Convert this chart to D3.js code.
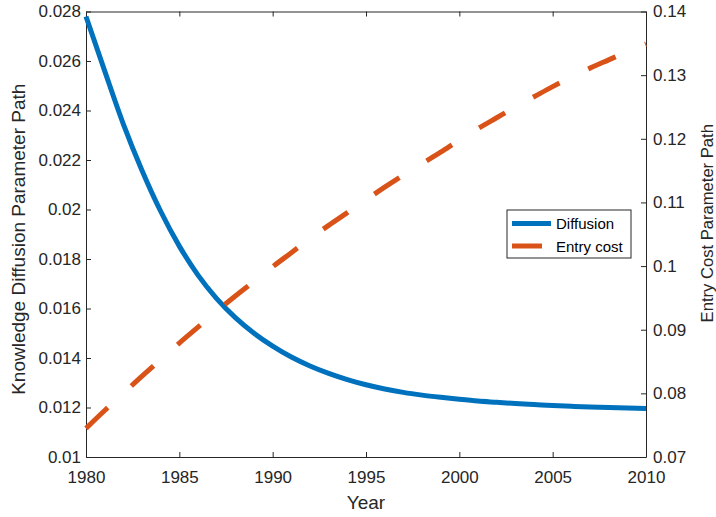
<!DOCTYPE html>
<head>
  <meta charset="utf-8">
  <script src="https://cdn.jsdelivr.net/npm/d3@7/dist/d3.min.js"></script>
  <style>
    body {
      margin: 0;
      background: #fff;
    }
    svg {
      font-family: "Liberation Sans", Arial, sans-serif;
    }
    .axis text {
      font-size: 17px;
      fill: #262626;
    }
    .axis path, .axis line {
      stroke: #262626;
    }
  </style>
</head>
<body>
  <script>

    // years on the x axis
    var years = d3.range(1980, 2011);

    // knowledge diffusion parameter path (left axis), one value per year
    var diffusion = [
      0.0278, 0.0256, 0.02345, 0.02158, 0.01993, 0.01852, 0.01735, 0.01640,
      0.01563, 0.01500, 0.01448, 0.01404, 0.01368, 0.01338, 0.01313, 0.01292,
      0.01275, 0.01261, 0.01250, 0.01241, 0.01233, 0.01226, 0.01221, 0.01216,
      0.01212, 0.01208, 0.01205, 0.01202, 0.01200, 0.01198, 0.01196
    ];

    // entry cost parameter path (right axis), one value per year
    var entryCost = [
      0.0745, 0.0773, 0.0800, 0.0827, 0.0853, 0.0879, 0.0904, 0.0929,
      0.0953, 0.0976, 0.0999, 0.1021, 0.1043, 0.1064, 0.1084, 0.1104,
      0.1124, 0.1143, 0.1161, 0.1179, 0.1198, 0.1216, 0.1233, 0.1250,
      0.1266, 0.1282, 0.1297, 0.1311, 0.1324, 0.1337, 0.1349
    ];

    var xTicks = [1980, 1985, 1990, 1995, 2000, 2005, 2010];
    var leftTicks = [0.01, 0.012, 0.014, 0.016, 0.018, 0.02, 0.022, 0.024, 0.026, 0.028];
    var rightTicks = [0.07, 0.08, 0.09, 0.1, 0.11, 0.12, 0.13, 0.14];

    var series = [
      { name: "Diffusion", color: "#0072BD", dash: null },
      { name: "Entry cost", color: "#D95319", dash: "30,32" }
    ];

    var width = 716, height = 517;
    var x0 = 86, x1 = 646, y0 = 11.5, y1 = 457;

    var svg = d3.select("body").append("svg")
        .attr("width", width)
        .attr("height", height);

    var x = d3.scaleLinear().domain([1980, 2010]).range([x0, x1]);
    var yL = d3.scaleLinear().domain([0.01, 0.028]).range([y1, y0]);
    var yR = d3.scaleLinear().domain([0.07, 0.14]).range([y1, y0]);

    var fmt = function (d){ return String(+d.toFixed(4)); };

    // box axes (ticks point inward, MATLAB style)
    svg.append("g").attr("class", "axis")
        .attr("transform", "translate(0," + y1 + ")")
        .call(d3.axisBottom(x).tickValues(xTicks).tickFormat(d3.format("d"))
          .tickSizeInner(-5).tickSizeOuter(0).tickPadding(14));

    svg.append("g").attr("class", "axis")
        .attr("transform", "translate(0," + y0 + ")")
        .call(d3.axisTop(x).tickValues(xTicks).tickFormat("")
          .tickSizeInner(-5).tickSizeOuter(0));

    svg.append("g").attr("class", "axis")
        .attr("transform", "translate(" + x0 + ",0)")
        .call(d3.axisLeft(yL).tickValues(leftTicks).tickFormat(fmt)
          .tickSizeInner(-5).tickSizeOuter(0).tickPadding(5));

    svg.append("g").attr("class", "axis")
        .attr("transform", "translate(" + x1 + ",0)")
        .call(d3.axisRight(yR).tickValues(rightTicks).tickFormat(fmt)
          .tickSizeInner(-5).tickSizeOuter(0).tickPadding(7));

    // lines
    var lineL = d3.line()
        .x(function (d, i){ return x(years[i]); })
        .y(function (d){ return yL(d); })
        .curve(d3.curveMonotoneX);

    var lineR = d3.line()
        .x(function (d, i){ return x(years[i]); })
        .y(function (d){ return yR(d); })
        .curve(d3.curveMonotoneX);

    svg.append("path")
        .attr("d", lineL(diffusion))
        .attr("fill", "none")
        .attr("stroke", series[0].color)
        .attr("stroke-width", 5);

    svg.append("path")
        .attr("d", lineR(entryCost))
        .attr("fill", "none")
        .attr("stroke", series[1].color)
        .attr("stroke-width", 5)
        .attr("stroke-dasharray", series[1].dash);

    // axis labels
    svg.append("text")
        .attr("x", (x0 + x1) / 2)
        .attr("y", 509)
        .attr("text-anchor", "middle")
        .attr("font-size", 19)
        .attr("fill", "#262626")
        .text("Year");

    svg.append("text")
        .attr("transform", "translate(25," + ((y0 + y1) / 2 + 5) + ") rotate(-90)")
        .attr("text-anchor", "middle")
        .attr("font-size", 19)
        .attr("fill", "#262626")
        .text("Knowledge Diffusion Parameter Path");

    svg.append("text")
        .attr("transform", "translate(713," + ((y0 + y1) / 2 - 11) + ") rotate(-90)")
        .attr("text-anchor", "middle")
        .attr("font-size", 16.6)
        .attr("fill", "#262626")
        .text("Entry Cost Parameter Path");

    // legend
    var legend = svg.append("g").attr("transform", "translate(507,210)");

    legend.append("rect")
        .attr("width", 124)
        .attr("height", 48)
        .attr("fill", "#fff")
        .attr("stroke", "#262626")
        .attr("stroke-width", 1);

    var item = legend.selectAll("g.item")
        .data(series)
        .enter().append("g")
        .attr("class", "item")
        .attr("transform", function (d, i){ return "translate(0," + (13.5 + i * 22.5) + ")"; });

    item.append("line")
        .attr("x1", 5).attr("x2", 44)
        .attr("stroke", function (d){ return d.color; })
        .attr("stroke-width", 5)
        .attr("stroke-dasharray", function (d){ return d.dash; });

    item.append("text")
        .attr("x", 49)
        .attr("y", 5.5)
        .attr("font-size", 15)
        .attr("fill", "#000")
        .text(function (d){ return d.name; });

  </script>
</body>
